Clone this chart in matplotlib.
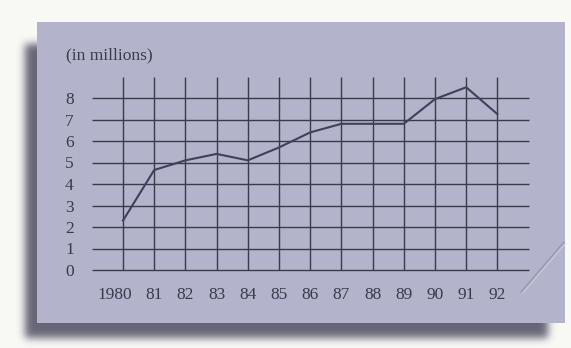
import numpy as np
import matplotlib.pyplot as plt
from matplotlib.patches import Rectangle
from matplotlib.transforms import ScaledTranslation

years = ["1980", "81", "82", "83", "84", "85", "86", "87", "88", "89", "90", "91", "92"]
values = [2.3, 4.65, 5.1, 5.4, 5.1, 5.7, 6.4, 6.8, 6.8, 6.8, 7.95, 8.5, 7.25]
yticks = [0, 1, 2, 3, 4, 5, 6, 7, 8]
unit_label = "(in millions)"

card_color = "#b3b4cc"
ink = "#3a3a4a"
serif = ["Liberation Serif", "DejaVu Serif"]

W, H = 571, 348
fig = plt.figure(figsize=(W / 100, H / 100), dpi=100)
fig.patch.set_facecolor("#f8f8f5")

# background axes in pixel coordinates for the card and its shadow
bg = fig.add_axes([0, 0, 1, 1], zorder=0)
bg.set_xlim(0, W)
bg.set_ylim(H, 0)
bg.axis("off")


def blur(a, sigma):
    r = int(3 * sigma)
    k = np.exp(-0.5 * (np.arange(-r, r + 1) / sigma) ** 2)
    k /= k.sum()
    a = np.apply_along_axis(lambda v: np.convolve(v, k, mode="same"), 0, a)
    a = np.apply_along_axis(lambda v: np.convolve(v, k, mode="same"), 1, a)
    return a


# blurred drop shadow, card shifted left and down
mask = np.zeros((H, W))
mask[44:338, 25:548] = 1.0
alpha = blur(mask, 4.0) * 0.85
shadow = np.zeros((H, W, 4))
shadow[..., 0] = 0.30
shadow[..., 1] = 0.30
shadow[..., 2] = 0.38
shadow[..., 3] = alpha
bg.imshow(shadow, extent=(0, W, H, 0), interpolation="bilinear", zorder=0)
bg.set_xlim(0, W)
bg.set_ylim(H, 0)

bg.add_patch(Rectangle((37, 22), 528, 301, facecolor=card_color, edgecolor="none", zorder=1))
# faint fold in the bottom right corner
bg.plot([521, 564], [292, 242], color="#8a8aa2", lw=0.8, alpha=0.8, zorder=2)
bg.plot([523, 566], [293, 243], color="#d4d5e4", lw=0.6, alpha=0.8, zorder=2)

bg.text(66, 55, unit_label, fontsize=12.5, family=serif, color=ink, va="center", ha="left", zorder=3)

# main chart, grid spacing 31.2 px wide and 21.5 px tall
x = np.arange(len(years))
left_px, right_px = 91.8, 528.6
bottom_px, top_px = 270, 76.5
ax = fig.add_axes([left_px / W, (H - bottom_px) / H, (right_px - left_px) / W, (bottom_px - top_px) / H],
                  zorder=1)
ax.patch.set_alpha(0)
ax.set_xlim(-1, 13)
ax.set_ylim(0, 9)
for s in ax.spines.values():
    s.set_visible(False)

ax.set_xticks(x)
ax.set_xticklabels(years)
ax.set_yticks(yticks)
ax.set_yticklabels([str(v) for v in yticks])
ax.hlines(yticks, -1, 13, color=ink, lw=1.0, clip_on=False)
ax.vlines(x, 0, 9, color=ink, lw=1.0, clip_on=False)
ax.tick_params(length=0, labelsize=12.5, colors=ink)
ax.tick_params(axis="y", pad=13)
ax.tick_params(axis="x", pad=12)
for lab in ax.get_xticklabels() + ax.get_yticklabels():
    lab.set_family(serif)

# the year label sits a little left of its grid line
first = ax.get_xticklabels()[0]
first.set_transform(first.get_transform() + ScaledTranslation(-8 / 100, 0, fig.dpi_scale_trans))

ax.plot(x, values, color="#40405a", lw=1.5, clip_on=False)

fig.savefig("out.png", dpi=100)
